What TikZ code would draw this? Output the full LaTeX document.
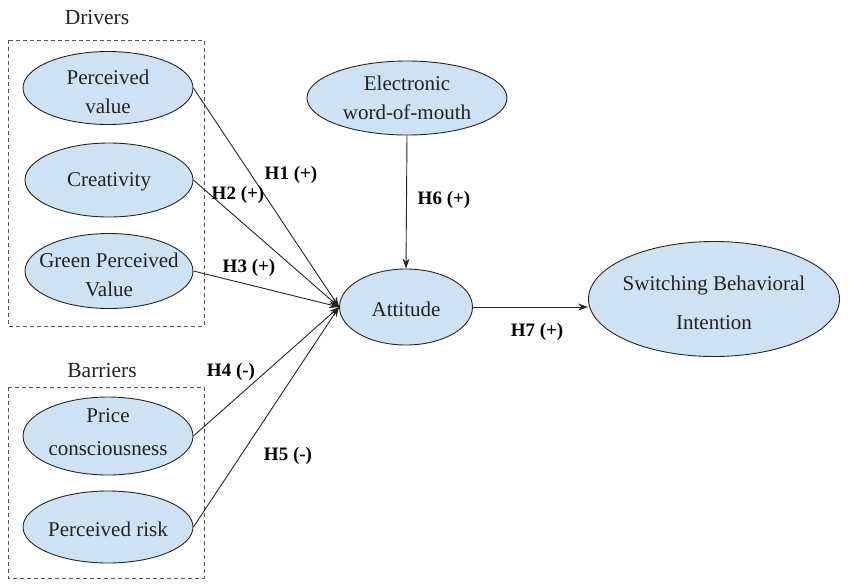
\documentclass[tikz,border=0pt]{standalone}
\usepackage{fontspec}
\setmainfont{Liberation Serif}
\usetikzlibrary{shapes.geometric,arrows.meta}
\definecolor{nodefill}{HTML}{CFE2F3}
\definecolor{edgecol}{HTML}{262626}
\definecolor{boxgray}{HTML}{555555}
\definecolor{txt}{HTML}{222222}
\tikzset{
 construct/.style={ellipse, draw=edgecol, line width=0.9pt, fill=nodefill, inner sep=0pt},
 ctext/.style={align=center, font=\fontsize{21}{28.5}\selectfont, text=txt},
 hyp/.style={font=\fontsize{19}{22}\selectfont\bfseries, text=black},
 link/.style={draw=edgecol, line width=0.9pt, -{Stealth[length=10pt,width=7pt]}},
 groupbox/.style={draw=boxgray, dash pattern=on 4pt off 3pt, line width=1pt},
}
\begin{document}
\begin{tikzpicture}[x=1pt,y=-1pt]
\useasboundingbox (0,0) rectangle (849,587);
% group boxes
\draw[groupbox] (8,40) rectangle (204,326);
\draw[groupbox] (8,387) rectangle (204,578);
\node[ctext, font=\fontsize{21.5}{26}\selectfont] (drv) at (97,17) {Drivers};
\node[ctext, font=\fontsize{21.5}{26}\selectfont] (bar) at (102,370) {Barriers};
% constructs
\node[construct, minimum width=170pt, minimum height=73pt,
  label={[ctext, yshift=-4pt]center:Perceived\\value}] (pv) at (108,88) {};
\node[construct, minimum width=168pt, minimum height=74pt,
  label={[ctext, yshift=-2pt]center:Creativity}] (cr) at (109,180) {};
\node[construct, minimum width=168pt, minimum height=75pt,
  label={[ctext, yshift=-4pt]center:Green Perceived\\Value}] (gpv) at (109,271) {};
\node[construct, minimum width=170pt, minimum height=78pt,
  label={[ctext, yshift=4pt]center:Price\\[4pt]consciousness}] (pc) at (108,436) {};
\node[construct, minimum width=170pt, minimum height=72pt,
  label={[ctext, yshift=-2pt]center:Perceived risk}] (pr) at (108,527) {};
\node[construct, minimum width=200pt, minimum height=74pt,
  label={[ctext]center:Electronic\\word-of-mouth}] (ewom) at (407,98) {};
\node[construct, minimum width=133pt, minimum height=76pt,
  label={[ctext, yshift=-2pt]center:Attitude}] (att) at (406,307) {};
\node[construct, minimum width=251pt, minimum height=115pt,
  label={[ctext, yshift=-4pt]center:Switching Behavioral\\[10pt]Intention}] (sbi) at (714,299) {};
% connectors
\draw[link] (pv.east) -- (att.west);
\draw[link] (cr.east) -- (att.west);
\draw[link] (gpv.east) -- (att.west);
\draw[link] (pc.east) -- (att.west);
\draw[link] (pr.east) -- (att.west);
\draw[link] (ewom.south) -- (att.north);
\draw[link] (att.east) -- (att.east -| sbi.west);
% hypothesis labels
\node[hyp] (h1) at (291,175) {H1 (+)};
\node[hyp] (h2) at (238,195) {H2 (+)};
\node[hyp] (h3) at (249,268) {H3 (+)};
\node[hyp] (h4) at (231,372) {H4 (-)};
\node[hyp] (h5) at (288,456) {H5 (-)};
\node[hyp] (h6) at (444,200) {H6 (+)};
\node[hyp] (h7) at (537,332) {H7 (+)};
\end{tikzpicture}
\end{document}
